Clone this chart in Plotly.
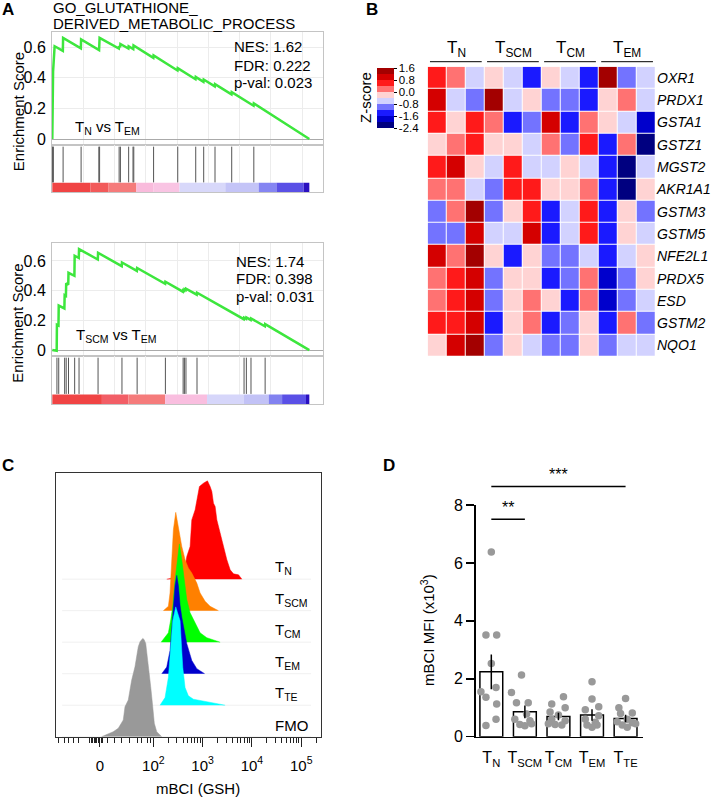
import math
import plotly.graph_objects as go

W, H = 716, 797
FONT = "Liberation Sans, Arial, Helvetica, sans-serif"

# ---------------- Panel A data (rank in % of ranked gene list) ----------------
es1_rank = [0, 0.15, 0.3, 0.9, 4.1, 4.2, 11.1, 11.2, 18.2, 18.4, 25.9, 26.0, 26.4, 26.5,
            29.6, 29.7, 31.5, 31.6, 39.3, 39.4, 48.7, 48.8, 55.7, 55.8, 58.8, 58.9,
            63.2, 63.3, 69.7, 69.8, 78.3, 78.4, 100]
es1_score = [0, 0.24, 0.44, 0.605, 0.575, 0.66, 0.592, 0.65, 0.58, 0.66, 0.59, 0.605, 0.60, 0.62,
             0.59, 0.605, 0.587, 0.61, 0.529, 0.545, 0.447, 0.462, 0.39, 0.405, 0.373, 0.388,
             0.343, 0.358, 0.291, 0.306, 0.217, 0.232, 0.0]
hits1 = [0.0, 0.2, 0.4, 4.2, 11.2, 18.1, 18.4, 26.0, 26.5, 29.7, 31.4, 31.7, 39.4, 48.8,
         55.8, 58.9, 63.3, 69.8, 78.4]
rankbar1_edges = [0, 14.8, 21.9, 32.7, 39.4, 49.5, 67.3, 80.3, 87.2, 97.8, 100]
rankbar1_colors = ['#f04444', '#f25a5a', '#f57b7b', '#f9bbdc', '#f9c4e3', '#d8d8fa',
                   '#c4c4f7', '#8585f2', '#5a50e6', '#2a10c0']
stats1 = ["NES: 1.62", "FDR: 0.222", "p-val: 0.023"]
comp1 = "T<sub>N</sub> vs T<sub>EM</sub>"

es2_rank = [0, 1.7, 1.8, 2.4, 2.5, 4.7, 4.8, 5.3, 5.4, 6.2, 6.3, 8.6, 8.7, 10.3, 10.4,
            17.7, 17.8, 27.0, 27.1, 32.9, 33.0, 43.9, 44.0, 50.8, 50.9, 51.3, 51.4, 51.9, 52.0,
            56.2, 56.3, 74.5, 74.6, 75.4, 75.5, 77.2, 77.3, 82.7, 82.8, 100]
es2_score = [0, -0.005, 0.17, 0.165, 0.30, 0.28, 0.37, 0.365, 0.45, 0.44, 0.52, 0.50, 0.635, 0.62, 0.68,
             0.61, 0.655, 0.565, 0.59, 0.533, 0.553, 0.446, 0.46, 0.393, 0.403, 0.399, 0.409, 0.404, 0.414,
             0.373, 0.386, 0.208, 0.218, 0.210, 0.22, 0.203, 0.213, 0.160, 0.175, 0.0]
hits2 = [1.8, 2.5, 4.8, 5.4, 6.3, 8.7, 10.4, 17.8, 27.1, 33.0, 44.0, 50.9, 51.4, 52.0,
         56.3, 74.6, 75.5, 77.3, 82.8]
rankbar2_edges = [0, 19.3, 29.6, 43.9, 60.2, 74.4, 84.2, 89.4, 98.7, 100]
rankbar2_colors = ['#f04444', '#f25e66', '#f57b7b', '#f9bedf', '#d6d6fa', '#c2c2f6',
                   '#8282f0', '#5a50e6', '#2a10c0']
stats2 = ["NES: 1.74", "FDR: 0.398", "p-val: 0.031"]
comp2 = "T<sub>SCM</sub> vs T<sub>EM</sub>"

# ---------------- Panel B data ----------------
genes = ["OXR1", "PRDX1", "GSTA1", "GSTZ1", "MGST2", "AKR1A1", "GSTM3", "GSTM5",
         "NFE2L1", "PRDX5", "ESD", "GSTM2", "NQO1"]
samples = ["N1", "N2", "N3", "SCM1", "SCM2", "SCM3", "CM1", "CM2", "CM3", "EM1", "EM2", "EM3"]
groups = ["T<sub>N</sub>", "T<sub>SCM</sub>", "T<sub>CM</sub>", "T<sub>EM</sub>"]
zscore = [
    [0.6, 0.2, -0.6, -0.2, -0.6, -1.4, -0.2, -0.6, -1.4, 1.4, -1.0, -0.6],
    [1.0, -0.6, -1.0, 1.4, -0.6, -0.2, -1.0, -1.0, -1.4, -0.2, 0.2, -0.6],
    [0.6, -0.2, 0.6, 0.2, -1.4, -1.0, 1.0, -1.4, 0.2, -0.2, -0.6, -1.8],
    [-0.2, 0.2, 0.6, -0.2, -0.2, -0.6, 0.2, -1.0, 0.6, -1.4, 0.2, -2.2],
    [0.6, 1.0, -0.2, -0.6, 0.6, -0.6, -0.6, -0.2, -0.6, -1.4, -2.2, -0.6],
    [0.2, 0.2, -0.6, -1.0, 0.6, 0.6, -0.2, -0.2, 0.2, -1.4, -2.2, -0.2],
    [-1.0, 0.2, 1.4, -1.0, -0.2, 0.6, -1.4, -0.6, 0.6, -1.4, -0.2, -1.0],
    [-1.0, -1.0, 1.0, -0.6, -0.6, 1.0, -1.4, -0.6, 0.6, -1.4, -0.2, -0.6],
    [1.0, 0.2, 1.4, -0.2, -1.4, -0.2, -1.0, -1.0, -0.6, -1.4, -0.6, -0.2],
    [0.2, 0.6, 1.0, -1.0, -0.2, -0.2, -1.4, -1.0, 0.2, -1.8, -1.0, -0.2],
    [0.2, 0.6, 1.0, -1.0, -0.2, 0.2, -0.2, -1.4, 0.2, -1.8, -1.0, -0.6],
    [0.6, 0.6, 1.0, -1.4, -0.2, 0.2, -1.4, -1.0, -0.2, -1.4, 0.2, -1.0],
    [-0.2, 1.0, 1.4, -1.0, -0.2, -0.6, -1.0, -1.0, -0.2, -1.0, -0.6, -0.6],
]
z_bounds = [-2.4, -2.0, -1.6, -1.2, -0.8, -0.4, 0.0, 0.4, 0.8, 1.2, 1.6]
z_colors = ['#000080', '#0000cc', '#1a1aff', '#7373ff', '#d2d2ff',
            '#ffd3d3', '#ff7272', '#ff1a1a', '#d40000', '#a30000']
z_ticks = [1.6, 0.8, 0.0, -0.8, -1.6, -2.4]
z_ticktext = ["1.6", "0.8", "0.0", "-0.8", "-1.6", "-2.4"]

# ---------------- Panel C data (t = log10 display units, h = fraction of mode) ----------------
tn_t = [2.272, 2.543, 2.644, 2.679, 2.746, 2.780, 2.848, 2.882, 2.935, 3.016, 3.098, 3.152,
        3.187, 3.220, 3.254, 3.289, 3.356, 3.423, 3.492, 3.559, 3.626, 3.728, 3.797]
tn_h = [0, 0.027, 0.129, 0.231, 0.332, 0.603, 0.705, 0.807, 0.942, 0.976, 1.0, 0.942,
        0.892, 0.773, 0.739, 0.603, 0.468, 0.332, 0.197, 0.095, 0.054, 0.044, 0]
tscm_t = [2.203, 2.305, 2.339, 2.374, 2.407, 2.455, 2.508, 2.577, 2.644, 2.711, 2.780, 2.882,
          2.949, 3.051, 3.152, 3.321]
tscm_h = [0, 0.044, 0.18, 0.485, 0.824, 1.0, 0.858, 0.654, 0.519, 0.434, 0.383, 0.281,
          0.180, 0.095, 0.044, 0]
tcm_t = [2.157, 2.305, 2.354, 2.394, 2.441, 2.488, 2.528, 2.577, 2.610, 2.644, 2.679, 2.746,
         2.813, 2.949, 3.085, 3.356]
tcm_h = [0, 0.095, 0.23, 0.365, 0.635, 0.87, 1.0, 0.84, 0.70, 0.567, 0.433, 0.30,
         0.23, 0.095, 0.045, 0]
tem_t = [2.171, 2.272, 2.339, 2.374, 2.407, 2.441, 2.476, 2.508, 2.543, 2.577, 2.679, 2.780,
         2.882, 3.030, 3.041]
tem_h = [0, 0.067, 0.237, 0.474, 0.746, 0.898, 1.0, 0.898, 0.695, 0.576, 0.305, 0.135,
         0.051, 0.006, 0]
tte_t = [2.136, 2.238, 2.305, 2.354, 2.394, 2.455, 2.543, 2.577, 2.598, 2.644, 2.711, 2.813,
         3.016, 3.220, 3.356, 3.457]
tte_h = [0, 0.077, 0.281, 0.552, 0.858, 1.0, 0.858, 0.552, 0.383, 0.179, 0.095, 0.061,
         0.044, 0.026, 0.01, 0]
fmo_t = [0.951, 1.187, 1.289, 1.390, 1.425, 1.492, 1.561, 1.628, 1.695, 1.730, 1.785, 1.811,
         1.846, 1.878, 1.919, 1.947, 1.988, 2.020, 2.069, 2.171]
fmo_h = [0, 0.051, 0.085, 0.17, 0.305, 0.373, 0.576, 0.711, 0.915, 0.965, 1.0, 0.99,
         0.949, 0.813, 0.678, 0.508, 0.305, 0.136, 0.051, 0]
hist_names = ["T<sub>N</sub>", "T<sub>SCM</sub>", "T<sub>CM</sub>", "T<sub>EM</sub>", "T<sub>TE</sub>", "FMO"]
hist_colors = ['#ff0000', '#ff8000', '#00ff00', '#0000cc', '#00ffff', '#999999']
c_tickvals = [0.917, 2, 3, 4, 5]
c_ticktext = ["0", "10<sup>2</sup>", "10<sup>3</sup>", "10<sup>4</sup>", "10<sup>5</sup>"]

# ---------------- Panel D data ----------------
d_cats = ["T<sub>N</sub>", "T<sub>SCM</sub>", "T<sub>CM</sub>", "T<sub>EM</sub>", "T<sub>TE</sub>"]
d_mean = [2.24, 0.86, 0.70, 0.75, 0.63]
d_sem = [0.60, 0.22, 0.13, 0.20, 0.13]
d_pts = [
    [6.38, 3.51, 3.51, 2.53, 1.55, 1.70, 1.36, 1.13, 0.60, 0.39],
    [2.13, 1.53, 1.17, 1.17, 0.78, 0.60, 0.55, 0.42, 0.38, 0.45],
    [1.38, 1.13, 1.00, 0.85, 0.75, 0.60, 0.55, 0.42, 0.40, 0.45],
    [1.90, 1.30, 1.03, 0.93, 0.72, 0.60, 0.50, 0.40, 0.40, 0.33],
    [1.32, 1.00, 0.80, 0.82, 0.60, 0.52, 0.48, 0.40, 0.33, 0.45],
]
sig_pairs = [(0, 1, "**"), (0, 4, "***")]
sig_levels = [7.51, 8.64]

# ---------------- layout helpers ----------------
def dx(a, b):
    return [a / W, b / W]

def dy(top, bottom):
    return [1 - bottom / H, 1 - top / H]

def to_paper(v, rng, dom):
    return dom[0] + (v - rng[0]) / (rng[1] - rng[0]) * (dom[1] - dom[0])

def ann(text, xp, yp, size=15, **kw):
    d = dict(text=text, x=xp / W, y=1 - yp / H, xref='paper', yref='paper', showarrow=False,
             font=dict(family=FONT, size=size, color='black'))
    d.update(kw)
    return d

def axkey(a):
    return ('xaxis' if a[0] == 'x' else 'yaxis') + a[1:]

fig = go.Figure()
annotations = []
shapes = []
layout_axes = {}

GX = [-0.12, 105.2]
GRID = '#ececec'
FRAME = '#c4c4c4'

gsea = [
    dict(rank=es1_rank, score=es1_score, hits=hits1, edges=rankbar1_edges, colors=rankbar1_colors,
         ax=('x', 'y'), hx=('x2', 'y2'), top=32, split=145, bottom=192.3, yr=[-0.039, 0.698],
         stats=stats1, stat_x=232, stat_y=[47, 65, 82], comp=comp1, comp_xy=(73, 127)),
    dict(rank=es2_rank, score=es2_score, hits=hits2, edges=rankbar2_edges, colors=rankbar2_colors,
         ax=('x3', 'y3'), hx=('x4', 'y4'), top=243.3, split=356, bottom=404, yr=[-0.04, 0.719],
         stats=stats2, stat_x=234, stat_y=[261, 278.5, 296.5], comp=comp2, comp_xy=(74, 335)),
]
for g in gsea:
    xa, ya = g['ax']
    hxa, hya = g['hx']
    fig.add_trace(go.Scatter(x=g['rank'], y=g['score'], mode='lines',
                             line=dict(color='#3de63d', width=2.5), xaxis=xa, yaxis=ya,
                             showlegend=False, hoverinfo='skip'))
    hx, hy = [], []
    for h in g['hits']:
        hx += [h, h, None]
        hy += [0.21, 0.965, None]
    fig.add_trace(go.Scatter(x=hx, y=hy, mode='lines', line=dict(color='#555555', width=1),
                             xaxis=hxa, yaxis=hya, showlegend=False, hoverinfo='skip'))
    e = g['edges']
    fig.add_trace(go.Bar(x=[(e[k] + e[k + 1]) / 2 for k in range(len(e) - 1)],
                         y=[0.2] * (len(e) - 1), width=[e[k + 1] - e[k] for k in range(len(e) - 1)],
                         base=0, marker=dict(color=g['colors'], line=dict(width=0)),
                         xaxis=hxa, yaxis=hya, showlegend=False, hoverinfo='skip'))
    common_x = dict(domain=dx(52, 322.7), range=GX, showticklabels=False, ticks='', showgrid=True,
                    gridcolor=GRID, tick0=0, dtick=12.15, zeroline=False, showline=True, mirror=True,
                    linecolor=FRAME, linewidth=1, automargin=False)
    layout_axes[axkey(xa)] = dict(common_x, anchor=ya)
    layout_axes[axkey(hxa)] = dict(common_x, anchor=hya)
    layout_axes[axkey(ya)] = dict(domain=dy(g['top'], g['split']), range=g['yr'], anchor=xa,
                                  tickvals=[0, 0.2, 0.4, 0.6], ticktext=['0', '0.2', '0.4', '0.6'],
                                  ticks='', showgrid=True, gridcolor=GRID, zeroline=True,
                                  zerolinecolor='#aaaaaa', zerolinewidth=1, showline=True, mirror=True,
                                  linecolor=FRAME, automargin=False, ticklabelstandoff=2,
                                  tickfont=dict(family=FONT, size=16, color='black'))
    layout_axes[axkey(hya)] = dict(domain=dy(g['split'], g['bottom']), range=[0, 1], anchor=hxa,
                                   showticklabels=False, ticks='', showgrid=False, zeroline=False,
                                   showline=True, mirror=True, linecolor=FRAME, automargin=False)
    for s, yy in zip(g['stats'], g['stat_y']):
        annotations.append(ann(s, g['stat_x'], yy, 15, xanchor='left', yanchor='middle'))
    annotations.append(ann(g['comp'], g['comp_xy'][0], g['comp_xy'][1], 15, xanchor='left', yanchor='middle'))
    annotations.append(ann("Enrichment Score", 18, (g['top'] + g['bottom']) / 2, 15, textangle=-90,
                           xanchor='center', yanchor='middle'))

annotations.append(ann("GO_GLUTATHIONE_", 51, 7, 15, xanchor='left', yanchor='middle'))
annotations.append(ann("DERIVED_METABOLIC_PROCESS", 51, 23.5, 15, xanchor='left', yanchor='middle'))

# ---------------- Panel B heatmap ----------------
cs = []
nlev = len(z_colors)
for k, c in enumerate(z_colors):
    cs.append([k / nlev, c])
    cs.append([(k + 1) / nlev, c])
fig.add_trace(go.Heatmap(z=zscore, x=samples, y=genes, zmin=z_bounds[0], zmax=z_bounds[-1],
                         colorscale=cs, xgap=1, ygap=1, xaxis='x5', yaxis='y5', hoverinfo='skip',
                         colorbar=dict(x=376.5 / W, xanchor='left', y=1 - 98.3 / H, yanchor='middle',
                                       len=60, lenmode='pixels', thickness=17, thicknessmode='pixels',
                                       xpad=0, ypad=0, outlinewidth=0, tickvals=z_ticks,
                                       ticktext=z_ticktext, ticks='outside', ticklen=3,
                                       tickcolor='black',
                                       tickfont=dict(family=FONT, size=11.5, color='black'))))
HM_XDOM = dx(427.7, 656)
HM_XR = [-0.5, len(samples) - 0.5]
layout_axes['xaxis5'] = dict(domain=HM_XDOM, range=HM_XR, anchor='y5', showticklabels=False, ticks='',
                             showgrid=False, zeroline=False, showline=False, automargin=False)
layout_axes['yaxis5'] = dict(domain=dy(66.7, 356.7), autorange='reversed', anchor='x5', side='right',
                             ticks='', showgrid=False, zeroline=False, showline=False, automargin=False,
                             tickvals=genes, ticktext=['<i>%s</i>' % g for g in genes],
                             tickfont=dict(family=FONT, size=14, color='black'))
for gi, gname in enumerate(groups):
    c0 = to_paper(gi * 3 - 0.38, HM_XR, HM_XDOM)
    c1 = to_paper(gi * 3 + 2.34, HM_XR, HM_XDOM)
    shapes.append(dict(type='line', xref='paper', yref='paper', x0=c0, x1=c1,
                       y0=1 - 61.7 / H, y1=1 - 61.7 / H, line=dict(color='black', width=1)))
    cx = to_paper(gi * 3 + 1, HM_XR, HM_XDOM) * W
    annotations.append(ann(gname, cx, 49, 17, xanchor='center', yanchor='middle'))
annotations.append(ann("Z-score", 366, 98, 15, textangle=-90, xanchor='center', yanchor='middle'))

# ---------------- Panel C histograms ----------------
PEAK = 3.12
hist_t = [tn_t, tscm_t, tcm_t, tem_t, tte_t, fmo_t]
hist_h = [tn_h, tscm_h, tcm_h, tem_h, tte_h, fmo_h]
C_XR = [0.026, 5.395]
C_YR = [0, 8.36]
for k in range(len(hist_t)):
    off = len(hist_t) - 1 - k
    shapes.append(dict(type='line', xref='x6', yref='y6', x0=0.15, x1=5.2, y0=off, y1=off,
                       line=dict(color='#f0f0f0', width=1), layer='below'))
    fig.add_trace(go.Scatter(x=hist_t[k], y=[off + v * PEAK for v in hist_h[k]], mode='lines',
                             fill='toself', fillcolor=hist_colors[k],
                             line=dict(color=hist_colors[k], width=0.5),
                             xaxis='x6', yaxis='y6', showlegend=False, hoverinfo='skip'))
    annotations.append(dict(text=hist_names[k], x=4.43, y=off + 0.36, xref='x6', yref='y6',
                            showarrow=False, xanchor='left', yanchor='middle',
                            font=dict(family=FONT, size=15, color='black')))
minor_c = [0.083, 0.205, 0.287, 0.39, 0.49, 0.713, 0.745, 0.775, 0.80, 0.83, 0.856, 0.88, 0.90,
           0.94, 0.96, 1.079, 1.22, 1.364, 1.526, 1.669, 1.77, 1.872, 1.933]
for dec in [2, 3, 4, 5]:
    for m in range(2, 10):
        v = dec + math.log10(m)
        if v < C_XR[1]:
            minor_c.append(v)
layout_axes['xaxis6'] = dict(domain=dx(56, 320.7), range=C_XR, anchor='y6', tickvals=c_tickvals,
                             ticktext=c_ticktext, ticks='outside', ticklen=9, tickwidth=1,
                             tickcolor='#222222', showline=True, mirror=True, linecolor='#333333',
                             showgrid=False, zeroline=False, ticklabelstandoff=6, automargin=False,
                             minor=dict(tickvals=minor_c, ticks='outside', ticklen=5,
                                        tickcolor='#222222', tickwidth=1, showgrid=False),
                             tickfont=dict(family=FONT, size=15, color='black'))
layout_axes['yaxis6'] = dict(domain=dy(473.3, 736.7), range=C_YR, anchor='x6', showticklabels=False,
                             ticks='', showline=True, mirror=True, linecolor='#333333',
                             showgrid=False, zeroline=False, automargin=False)
annotations.append(ann("mBCI (GSH)", 198, 788, 15, xanchor='center', yanchor='middle'))

# ---------------- Panel D bar chart ----------------
D_XR = [-0.465, 4.51]
D_YR = [0, 8]
D_XDOM = dx(475.7, 642.7)
D_YDOM = dy(505, 736.7)
jitter = [
    [0, -0.16, 0.16, 0, -0.31, 0.14, -0.16, 0.16, 0.14, -0.16],
    [-0.1, -0.4, -0.25, 0.1, 0.05, -0.3, 0.15, -0.15, 0.0, 0.2],
    [0.15, -0.2, 0.2, -0.25, 0.0, -0.2, 0.2, -0.1, 0.1, -0.3],
    [0.0, 0.0, 0.2, -0.2, 0.2, -0.2, 0.1, -0.15, 0.15, 0.0],
    [0.0, -0.2, -0.15, 0.2, 0.05, -0.25, 0.2, -0.1, 0.05, 0.3],
]
fig.add_trace(go.Bar(x=list(range(len(d_cats))), y=d_mean, width=0.68,
                     marker=dict(color='white', line=dict(color='black', width=1.5)),
                     xaxis='x7', yaxis='y7', showlegend=False, hoverinfo='skip'))
px_, py_ = [], []
for ci, pts in enumerate(d_pts):
    for j, v in enumerate(pts):
        px_.append(ci + jitter[ci][j])
        py_.append(v)
fig.add_trace(go.Scatter(x=px_, y=py_, mode='markers', marker=dict(color='#999999', size=7.5),
                         xaxis='x7', yaxis='y7', showlegend=False, hoverinfo='skip'))
fig.add_trace(go.Scatter(x=list(range(len(d_cats))), y=d_mean, mode='markers',
                         marker=dict(size=0.1, color='rgba(0,0,0,0)'),
                         error_y=dict(type='data', array=d_sem, visible=True, color='black',
                                      thickness=1.5, width=0),
                         xaxis='x7', yaxis='y7', showlegend=False, hoverinfo='skip'))
layout_axes['xaxis7'] = dict(domain=D_XDOM, range=D_XR, anchor='y7', tickvals=list(range(len(d_cats))),
                             ticktext=d_cats, ticks='', showline=True, linecolor='black', linewidth=1.5,
                             showgrid=False, zeroline=False, ticklabelstandoff=6, automargin=False,
                             tickfont=dict(family=FONT, size=16, color='black'))
layout_axes['yaxis7'] = dict(domain=D_YDOM, range=D_YR, anchor='x7', tickvals=[0, 2, 4, 6, 8],
                             ticks='outside', ticklen=8, tickwidth=1.5, tickcolor='black',
                             showline=True, linecolor='black', linewidth=1.5, showgrid=False,
                             zeroline=False, automargin=False,
                             tickfont=dict(family=FONT, size=16, color='black'))
for (a, b, txt), lev in zip(sig_pairs, sig_levels):
    ypp = to_paper(lev, D_YR, D_YDOM)
    x0 = to_paper(a, D_XR, D_XDOM)
    x1 = to_paper(b, D_XR, D_XDOM)
    shapes.append(dict(type='line', xref='paper', yref='paper', x0=x0, x1=x1, y0=ypp, y1=ypp,
                       line=dict(color='black', width=1.5)))
    annotations.append(dict(text=txt, x=(x0 + x1) / 2, y=ypp + 1.0 / H, xref='paper', yref='paper',
                            showarrow=False, xanchor='center', yanchor='bottom',
                            font=dict(family=FONT, size=16, color='black')))
annotations.append(ann("mBCI MFI (x10<sup>3</sup>)", 427, 630, 15, textangle=-90,
                       xanchor='center', yanchor='middle'))

# ---------------- panel letters ----------------
for letter, xx, yy in [("A", 8, 9), ("B", 372, 9), ("C", 8, 465), ("D", 389, 465)]:
    annotations.append(ann("<b>%s</b>" % letter, xx, yy, 17, xanchor='center', yanchor='middle'))

fig.update_layout(width=W, height=H, margin=dict(l=0, r=0, t=0, b=0, autoexpand=False),
                  paper_bgcolor='white', plot_bgcolor='white', showlegend=False,
                  annotations=annotations, shapes=shapes,
                  font=dict(family=FONT, color='black'), barmode='overlay', **layout_axes)
fig.write_html("out.html", config={'displayModeBar': False, 'staticPlot': True},
               post_script="document.body.style.margin='0px';document.body.style.padding='0px';"
                           "document.body.style.overflow='hidden';")
